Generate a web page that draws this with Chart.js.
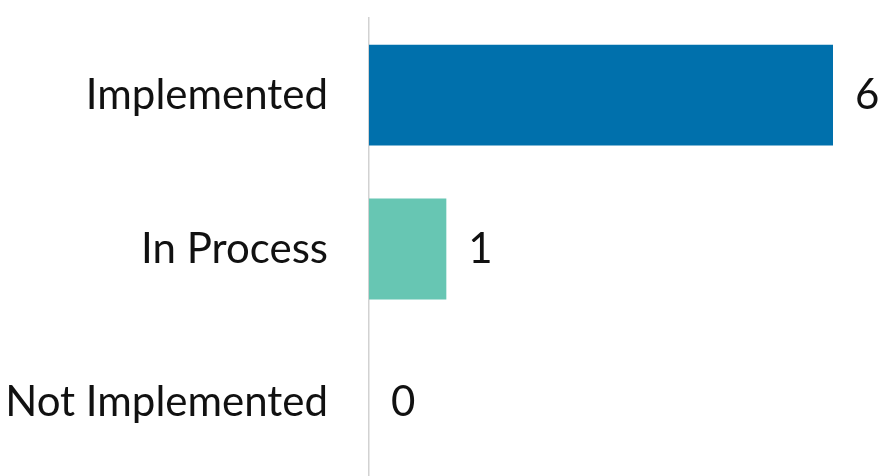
<!DOCTYPE html>
<html>
<head>
<meta charset="utf-8">
<script src="https://cdn.jsdelivr.net/npm/chart.js@4/dist/chart.umd.min.js"></script>
<style>
  html, body { margin: 0; padding: 0; background: #fff; overflow: hidden; }
  #wrap { position: relative; width: 878px; height: 594px; margin-top: -48px; }
</style>
</head>
<body>
<div id="wrap"><canvas id="statusChart"></canvas></div>
<script>
// status counts
const categories = ['Implemented', 'In Process', 'Not Implemented'];
const counts = [6, 1, 0];
const barColors = ['#0070ac', '#67c6b3', '#cccccc'];

const labelFont = { family: 'Lato, "Open Sans", sans-serif', size: 42 };

// writes each bar's count just past its end
const valueLabels = {
    id: 'valueLabels',
    afterDatasetsDraw(chart) {
        const ctx = chart.ctx;
        const meta = chart.getDatasetMeta(0);
        ctx.save();
        ctx.fillStyle = '#111';
        ctx.font = labelFont.size + 'px ' + labelFont.family;
        ctx.textAlign = 'left';
        ctx.textBaseline = 'middle';
        meta.data.forEach((bar, i) => {
            ctx.fillText(String(counts[i]), bar.x + 22, bar.y);
        });
        ctx.restore();
    }
};

new Chart(document.getElementById('statusChart'), {
    type: 'bar',
    data: {
        labels: categories,
        datasets: [{
            data: counts,
            backgroundColor: barColors,
            barPercentage: 0.82,
            categoryPercentage: 0.8
        }]
    },
    options: {
        indexAxis: 'y',
        responsive: true,
        maintainAspectRatio: false,
        animation: false,
        layout: { padding: { top: 16, right: 45, bottom: 0, left: 0 } },
        plugins: {
            legend: { display: false },
            tooltip: { enabled: false }
        },
        scales: {
            x: {
                display: false,
                min: 0,
                max: 6
            },
            y: {
                grid: { display: false, drawTicks: false },
                border: { display: true, color: '#d2d2d2', width: 1.5 },
                ticks: {
                    color: '#111',
                    font: labelFont,
                    padding: 41
                },
                afterFit(scale) { scale.width = 369; }
            }
        }
    },
    plugins: [valueLabels]
});
</script>
</body>
</html>
